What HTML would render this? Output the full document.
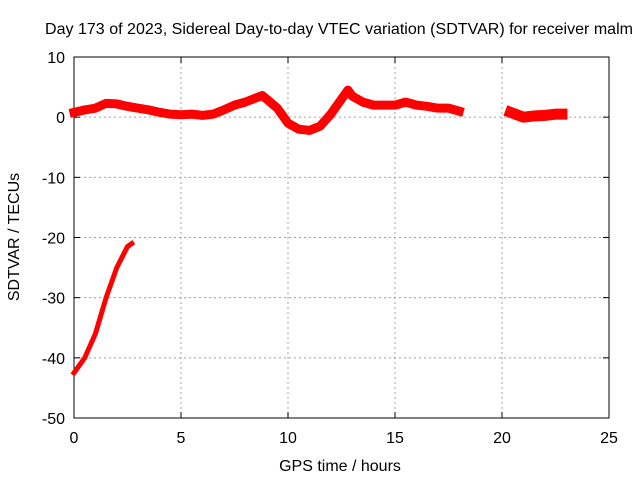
<!DOCTYPE html>
<html><head><meta charset="utf-8"><style>
body{margin:0;background:#fff}
text{font-family:"Liberation Sans",sans-serif;font-size:16px;fill:#000}
</style></head><body>
<svg id="c" width="640" height="480">
<rect width="640" height="480" fill="#fff"/>
<g id="grid"></g>
<g id="axes"></g>
<g id="marks"></g>
<text x="339" y="34" text-anchor="middle" textLength="588">Day 173 of 2023, Sidereal Day-to-day VTEC variation (SDTVAR) for receiver malm</text>
<text x="340" y="471" text-anchor="middle">GPS time / hours</text>
<text transform="translate(19,237) rotate(-90)" text-anchor="middle">SDTVAR / TECUs</text>
</svg>
<script>
const xTicks=[0,5,10,15,20,25];
const yTicks=[10,0,-10,-20,-30,-40,-50];
const mainHours=[0,0.5,1,1.5,2,2.5,3,3.5,4,4.5,5,5.5,6,6.5,7,7.5,8,8.5,8.8,9,9.5,10,10.5,11,11.5,12,12.5,12.8,13,13.5,14,14.5,15,15.5,16,16.5,17,17.5,18];
const mainValues=[0.8,1.2,1.5,2.3,2.2,1.8,1.5,1.2,0.8,0.5,0.4,0.5,0.3,0.5,1.2,2,2.5,3.2,3.6,3,1.5,-1,-2,-2.2,-1.5,0.5,3,4.5,3.5,2.5,2,2,2,2.5,2,1.8,1.5,1.5,1];
const lateHours=[20.4,21,21.5,22,22.5,22.8];
const lateValues=[0.8,0,0.2,0.3,0.5,0.5];
const earlyHours=[0,0.5,1,1.5,2,2.5,2.7];
const earlyValues=[-42.5,-40,-36,-30,-25,-21.5,-21];
const L=74,R=609,T=57,B=418;
const xs=v=>L+(v-0)/25*(R-L);
const ys=v=>T+(10-v)/60*(B-T);
const NS='http://www.w3.org/2000/svg';
function mk(t,a,p){const e=document.createElementNS(NS,t);for(const k in a)e.setAttribute(k,a[k]);p.appendChild(e);return e;}
const grid=document.getElementById('grid'),axes=document.getElementById('axes'),marks=document.getElementById('marks');
xTicks.forEach(t=>{
 if(t>0&&t<25){const g=mk('line',{x1:xs(t),x2:xs(t),y1:T,y2:B,stroke:'#a0a0a0','stroke-dasharray':'2,3'},grid);
 
 }
 mk('line',{x1:xs(t),x2:xs(t),y1:B,y2:B-6,stroke:'#000'},axes);
 mk('line',{x1:xs(t),x2:xs(t),y1:T,y2:T+6,stroke:'#000'},axes);
 const tx=mk('text',{x:xs(t),y:B+25,'text-anchor':'middle'},axes);tx.textContent=t;
 
 
});
yTicks.forEach(t=>{
 if(t<10&&t>-50){const g=mk('line',{x1:L,x2:R,y1:ys(t),y2:ys(t),stroke:'#a0a0a0','stroke-dasharray':'2,3'},grid);
 
 }
 mk('line',{x1:L,x2:L+6,y1:ys(t),y2:ys(t),stroke:'#000'},axes);
 mk('line',{x1:R,x2:R-6,y1:ys(t),y2:ys(t),stroke:'#000'},axes);
 const tx=mk('text',{x:L-9,y:ys(t)+6,'text-anchor':'end'},axes);tx.textContent=t;
 
 
});
const fr=mk('rect',{x:L,y:T,width:R-L,height:B-T,fill:'none',stroke:'#000'},axes);


function band(hs,vs,name,w){
 const pts=hs.map((h,i)=>xs(h)+','+ys(vs[i])).join(' ');
 const p=mk('polyline',{points:pts,fill:'none',stroke:'#f00','stroke-width':w,'stroke-linejoin':'round','stroke-linecap':'square'},marks);
 
 
}
band(mainHours,mainValues,'main-series-band',9);
band(lateHours,lateValues,'late-series-band',11);
band(earlyHours,earlyValues,'early-series-band',5);
</script>
</body></html>
